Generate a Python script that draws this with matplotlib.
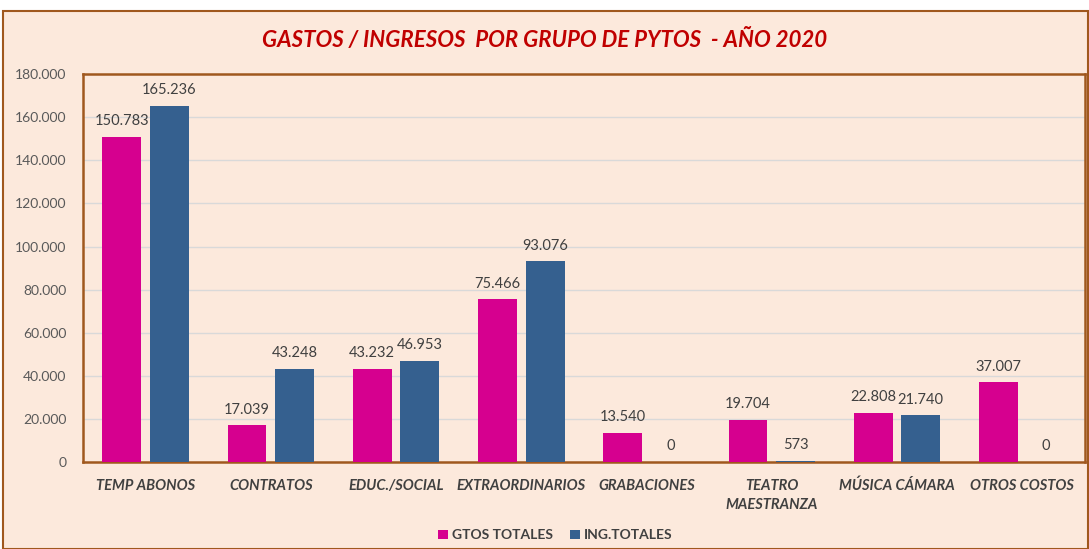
import numpy as np
import matplotlib
matplotlib.use("Agg")
from matplotlib import pyplot as plt
from matplotlib.patches import Rectangle

categories = ["TEMP ABONOS", "CONTRATOS", "EDUC./SOCIAL", "EXTRAORDINARIOS",
              "GRABACIONES", "TEATRO\nMAESTRANZA", "MÚSICA CÁMARA", "OTROS COSTOS"]
gtos = [150783, 17039, 43232, 75466, 13540, 19704, 22808, 37007]
ing = [165236, 43248, 46953, 93076, 0, 573, 21740, 0]

bg = "#FCE9DC"
brown = "#A0581E"
pink = "#D6008F"
blue = "#35608F"
grey = "#595959"

plt.rcParams['font.family'] = ['Lato', 'DejaVu Sans']

fig = plt.figure(figsize=(10.89, 5.49), dpi=100)
fig.patch.set_facecolor("white")
# outer chart border
fig.patches.append(Rectangle((0.003, 0.0), 0.996, 0.98, transform=fig.transFigure,
                             facecolor=bg, edgecolor=brown, lw=1.5, zorder=-1))

ax = fig.add_axes([0.0762, 0.1585, 0.920, 0.7065])
ax.set_facecolor(bg)

x = np.arange(len(categories))
w = 0.31
off = 0.19
b1 = ax.bar(x - off, gtos, w, color=pink, label="GTOS TOTALES", zorder=3)
b2 = ax.bar(x + off, ing, w, color=blue, label="ING.TOTALES", zorder=3)

def fmt(v):
    return f"{v:,}".replace(",", ".")

for bars, vals in ((b1, gtos), (b2, ing)):
    for r, v in zip(bars, vals):
        ax.text(r.get_x() + r.get_width() / 2, v + 4000, fmt(v),
                ha="center", va="bottom", fontsize=10.5, color="#404040", zorder=4)

ax.set_xlim(-0.5, len(categories) - 0.5)
ax.set_ylim(0, 180000)
yt = np.arange(0, 180001, 20000)
ax.set_yticks(yt)
ax.set_yticklabels([fmt(int(v)) for v in yt], fontsize=10, color=grey)
ax.set_xticks(x)
ax.set_xticklabels(categories, fontsize=10.5, color="#404040", style="italic",
                   fontweight="bold", linespacing=1.5)
ax.tick_params(axis="both", length=0)
ax.tick_params(axis="x", pad=12)
ax.tick_params(axis="y", pad=12)
ax.grid(axis="y", color="#D9D9D9", lw=1, zorder=0)
for s in ax.spines.values():
    s.set_color(brown)
    s.set_linewidth(1.8)

fig.text(0.5, 0.927, "GASTOS / INGRESOS  POR GRUPO DE PYTOS  - AÑO 2020",
         ha="center", va="center", fontsize=16, color="#C00000",
         fontweight="bold", style="italic")

fig.legend(handles=[b1, b2], loc="center", bbox_to_anchor=(0.51, 0.025), ncol=2,
           frameon=False, handlelength=0.7, handleheight=0.7,
           handletextpad=0.3, columnspacing=1.2,
           prop={"weight": "bold", "size": 10})
for t in fig.legends[0].get_texts():
    t.set_color("#404040")

fig.savefig("out.png", dpi=100, facecolor=fig.get_facecolor())
